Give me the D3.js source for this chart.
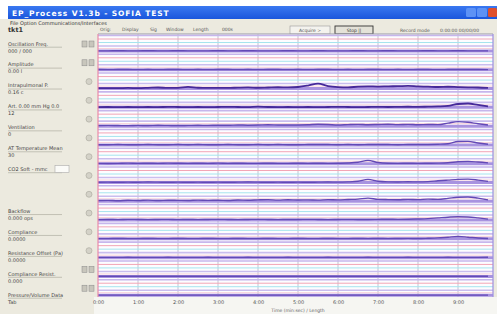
<!DOCTYPE html>
<html>
<head>
<meta charset="utf-8">
<script src="https://cdn.jsdelivr.net/npm/d3@7"></script>
<style>
body { margin:0; background:#fff; overflow:hidden; }
svg { display:block; font-family:"DejaVu Sans", sans-serif; }
</style>
</head>
<body>
<div id="vis"></div>
<script>
// ---- data ----
var labelNames = ["Oscillation Freq.", "Amplitude", "Intrapulmonal P.", "Art. 0.00 mm Hg 0.0", "Ventilation",
	"AT Temperature Mean", "CO2 Soft - mmc", "", "Backflow", "Compliance", "Resistance Offset (Pa)",
	"Compliance Resist.", "Pressure/Volume Data"];
var labelValues = ["000 / 000", "0.00 l", "0.16 c", "12", "0", "30", "", "", "0.000 ops", "0.0000", "0.0000", "0.000", "Tab"];

var timeTicks = [0, 1, 2, 3, 4, 5, 6, 7, 8, 9];
var tickLabels = ["0:00", "1:00", "2:00", "3:00", "4:00", "5:00", "6:00", "7:00", "8:00", "9:00"];

var sampleTimes = [0, 0.25, 0.5, 0.75, 1, 1.25, 1.5, 1.75, 2, 2.25, 2.5, 2.75, 3, 3.25, 3.5, 3.75, 4, 4.25, 4.5, 4.75,
	5, 5.25, 5.5, 5.75, 6, 6.25, 6.5, 6.75, 7, 7.25, 7.5, 7.75, 8, 8.25, 8.5, 8.75, 9, 9.25, 9.5, 9.75];

var ch0 = [0.1,0.1,0.2,0.1,0.1,0.2,0.1,0.1,0.2,0.1,0.1,0.1,0.2,0.1,0.1,0.2,0.1,0.1,0.1,0.2,0.1,0.1,0.2,0.1,0.1,0.1,0.2,0.1,0.1,0.2,0.1,0.1,0.1,0.2,0.1,0.1,0.2,0.1,0.1,0.1];
var ch1 = [0.2,0.1,0.2,0.2,0.1,0.2,0.1,0.2,0.2,0.1,0.2,0.1,0.2,0.2,0.1,0.2,0.1,0.2,0.2,0.1,0.2,0.1,0.2,0.2,0.1,0.2,0.1,0.2,0.2,0.1,0.2,0.1,0.2,0.2,0.1,0.2,0.3,0.2,0.2,0.1];
var ch2 = [0.3,0.4,0.3,0.5,0.4,0.6,0.9,0.5,0.6,1.4,0.7,0.5,0.6,0.5,0.8,1.0,0.7,0.9,1.1,1.0,1.3,2.5,4.2,2.0,1.2,1.0,1.6,1.8,1.7,1.9,2.0,2.2,1.8,1.6,1.3,1.5,1.2,1.0,0.9,0.6];
var ch3 = [0.2,0.3,0.2,0.3,0.2,0.3,0.2,0.4,0.3,0.2,0.3,0.2,0.3,0.4,0.3,0.2,0.6,0.3,0.2,0.3,0.2,0.3,0.2,0.3,0.4,0.3,0.2,0.3,0.4,0.3,0.4,0.5,0.4,0.6,0.8,1.2,2.8,3.2,2.0,0.8];
var ch4 = [0.5,0.6,0.5,0.4,0.6,0.5,0.7,0.6,0.5,0.6,0.7,0.6,0.8,0.7,1.0,0.8,0.9,1.2,1.0,0.9,1.0,1.2,1.6,1.4,1.0,1.3,1.5,1.2,1.4,1.6,1.3,1.5,1.2,1.4,1.3,2.5,3.8,3.2,2.0,1.0];
var ch5 = [0.2,0.2,0.3,0.2,0.2,0.3,0.2,0.2,0.3,0.2,0.3,0.2,0.2,0.3,0.2,0.2,0.3,0.2,0.3,0.2,0.2,0.3,0.4,0.3,0.2,0.3,0.2,0.3,0.4,0.3,0.2,0.3,0.3,0.4,0.6,1.0,2.8,3.0,1.6,0.6];
var ch6 = [0.3,0.2,0.3,0.5,0.3,0.4,0.3,0.5,0.4,0.3,0.4,0.3,0.5,0.3,0.4,0.3,0.3,0.4,0.3,0.3,0.4,0.3,0.4,0.3,0.4,0.6,1.2,2.8,1.0,0.4,0.3,0.4,0.3,0.4,0.5,0.8,1.6,1.9,1.4,0.7];
var ch7 = [0.2,0.3,0.2,0.3,0.2,0.4,0.3,0.2,0.3,0.2,0.3,0.2,0.3,0.2,0.3,0.4,0.3,0.2,0.3,0.2,0.3,0.2,0.3,0.4,0.3,0.5,1.0,2.6,1.0,0.5,0.4,0.6,0.5,0.7,1.4,2.0,2.6,2.8,2.0,0.9];
var ch8 = [0.6,0.8,0.5,0.9,0.7,1.0,0.6,0.9,0.8,0.7,1.0,0.8,0.9,0.7,1.1,0.9,1.2,1.4,1.0,1.3,1.1,1.2,1.0,1.4,1.2,1.5,1.8,2.6,1.6,1.4,1.3,1.6,1.4,1.8,1.6,2.4,3.4,3.6,2.6,1.2];
var ch9 = [0.4,0.5,0.4,0.6,0.5,0.4,0.5,0.6,0.4,0.5,0.4,0.5,0.6,0.5,0.4,0.5,0.6,0.5,0.4,0.5,0.5,0.6,0.5,0.4,0.5,0.6,0.5,0.5,0.6,0.7,0.6,0.7,0.9,1.2,1.8,2.4,2.8,2.6,1.8,0.8];
var ch10 = [0.2,0.2,0.3,0.2,0.2,0.3,0.2,0.2,0.3,0.2,0.2,0.3,0.2,0.2,0.3,0.2,0.2,0.3,0.2,0.2,0.3,0.2,0.2,0.3,0.2,0.2,0.3,0.2,0.3,0.2,0.3,0.4,0.3,0.5,0.8,1.4,2.0,1.4,0.7,0.3];
var ch11 = [0.2,0.2,0.2,0.3,0.2,0.2,0.2,0.3,0.2,0.2,0.2,0.3,0.2,0.2,0.2,0.3,0.2,0.2,0.2,0.3,0.2,0.2,0.2,0.3,0.2,0.2,0.2,0.3,0.2,0.2,0.2,0.3,0.2,0.2,0.2,0.3,0.2,0.2,0.2,0.3];
var ch12 = [0.1,0.1,0.1,0.1,0.1,0.1,0.1,0.1,0.1,0.1,0.1,0.1,0.1,0.1,0.1,0.1,0.1,0.1,0.1,0.1,0.1,0.1,0.1,0.1,0.1,0.1,0.1,0.1,0.1,0.1,0.1,0.1,0.1,0.1,0.1,0.1,0.1,0.1,0.1,0.1];
var ch13 = [0.1,0.1,0.1,0.1,0.1,0.1,0.1,0.1,0.1,0.1,0.1,0.1,0.1,0.1,0.1,0.1,0.1,0.1,0.1,0.1,0.1,0.1,0.1,0.1,0.1,0.1,0.1,0.1,0.1,0.1,0.1,0.1,0.1,0.1,0.1,0.1,0.1,0.1,0.1,0.1];

var traces = [ch0, ch1, ch2, ch3, ch4, ch5, ch6, ch7, ch8, ch9, ch10, ch11, ch12, ch13];

// ---- drawing ----
var width = 497, height = 314;
var plotLeft = 98, plotRight = 493, plotTop = 34, plotBottom = 297;

var svg = d3.select("#vis").append("svg")
	.attr("width", width)
	.attr("height", height);

var xScale = d3.scaleLinear()
	.domain([0, 9.875])
	.range([plotLeft, plotRight]);

var bandScale = d3.scaleBand()
	.domain(d3.range(traces.length))
	.range([plotTop, plotBottom]);

var labelScale = d3.scalePoint()
	.domain(d3.range(labelNames.length))
	.range([44, 295]);

var yScale = d3.scaleLinear()
	.domain([0, 5])
	.range([0, -6]);

// window chrome
svg.append("rect").attr("x", 0).attr("y", 19).attr("width", width).attr("height", height - 19).attr("fill", "#eceadf");

var titleGrad = svg.append("defs").append("linearGradient").attr("id", "tg").attr("x1", 0).attr("y1", 0).attr("x2", 0).attr("y2", 1);
titleGrad.append("stop").attr("offset", "0%").attr("stop-color", "#3a78f0");
titleGrad.append("stop").attr("offset", "100%").attr("stop-color", "#1a56dc");

svg.append("rect").attr("x", 8).attr("y", 6).attr("width", width - 8).attr("height", 13).attr("fill", "url(#tg)");
svg.append("text").attr("x", 12).attr("y", 15.5).attr("fill", "#fff").attr("font-size", 7.5).attr("font-weight", "bold")
	.attr("letter-spacing", 0.9)
	.text("EP_Process V1.3b - SOFIA TEST");
svg.append("rect").attr("x", 466).attr("y", 8).attr("width", 10).attr("height", 9).attr("rx", 1.5).attr("fill", "#5d92f5");
svg.append("rect").attr("x", 477).attr("y", 8).attr("width", 10).attr("height", 9).attr("rx", 1.5).attr("fill", "#5d92f5");
svg.append("rect").attr("x", 488).attr("y", 8).attr("width", 9).attr("height", 9).attr("rx", 1.5).attr("fill", "#e0502c");

// menu + toolbar
svg.append("text").attr("x", 10).attr("y", 24.5).attr("font-size", 5).attr("fill", "#333")
	.text("File    Option    Communications/Interfaces");
svg.append("text").attr("x", 8).attr("y", 32).attr("font-size", 6.5).attr("font-weight", "bold").attr("fill", "#333").text("tkt1");

var toolItems = [["Orig:", 100], ["Display", 122], ["Sig", 150], ["Window", 166], ["Length", 193], ["000s", 222]];
svg.selectAll(".tool").data(toolItems).enter().append("text")
	.attr("x", d => d[1]).attr("y", 31).attr("font-size", 4.5).attr("fill", "#555").text(d => d[0]);

svg.append("rect").attr("x", 290).attr("y", 26).attr("width", 40).attr("height", 8).attr("fill", "#f4f3ee").attr("stroke", "#999").attr("stroke-width", 0.6);
svg.append("text").attr("x", 310).attr("y", 31.8).attr("text-anchor", "middle").attr("font-size", 4.5).attr("fill", "#555").text("Acquire  >");
svg.append("rect").attr("x", 335).attr("y", 26).attr("width", 38).attr("height", 8).attr("fill", "#e4e2d8").attr("stroke", "#333").attr("stroke-width", 0.9);
svg.append("text").attr("x", 354).attr("y", 31.8).attr("text-anchor", "middle").attr("font-size", 4.5).attr("fill", "#333").text("Stop ||");
svg.append("text").attr("x", 400).attr("y", 31.5).attr("font-size", 4.5).attr("fill", "#555").text("Record mode");
svg.append("text").attr("x", 440).attr("y", 31.5).attr("font-size", 4.5).attr("fill", "#555").text("0:00:00 00/00/00");

// plot background
svg.append("rect").attr("x", plotLeft).attr("y", plotTop).attr("width", plotRight - plotLeft).attr("height", plotBottom - plotTop)
	.attr("fill", "#fdfdff");
svg.append("line").attr("x1", plotLeft).attr("x2", plotRight).attr("y1", plotTop).attr("y2", plotTop).attr("stroke", "#9a9aa8");

// vertical grid
svg.selectAll(".vgrid").data(timeTicks.slice(1)).enter().append("line")
	.attr("x1", d => xScale(d)).attr("x2", d => xScale(d))
	.attr("y1", plotTop).attr("y2", plotBottom)
	.attr("stroke", "#b4b4c4").attr("stroke-width", 0.8);

// horizontal guides in each channel band
var guides = [
	{ off: 1.5, color: "#c6b6ec", w: 1.6 },
	{ off: 5, color: "#f2a6b6", w: 1 },
	{ off: 8.5, color: "#a6e4ee", w: 1 },
	{ off: 12, color: "#cabdee", w: 1.6 },
	{ off: 14.5, color: "#f6c4cf", w: 0.8 }
];

var bands = svg.selectAll(".band").data(traces).enter().append("g")
	.attr("class", "band")
	.attr("transform", (d, i) => "translate(0," + bandScale(i) + ")");

guides.forEach(function (g) {
	bands.append("line")
		.attr("x1", plotLeft).attr("x2", plotRight)
		.attr("y1", g.off).attr("y2", g.off)
		.attr("stroke", g.color).attr("stroke-width", g.w);
});

var traceBase = 17;
bands.append("line")
	.attr("x1", plotLeft).attr("x2", plotRight)
	.attr("y1", traceBase).attr("y2", traceBase)
	.attr("stroke", "#a893e0").attr("stroke-width", 3);

var line = d3.line()
	.x((d, i) => xScale(sampleTimes[i]))
	.y(d => traceBase + yScale(d))
	.curve(d3.curveMonotoneX);

bands.append("path")
	.attr("d", d => line(d))
	.attr("fill", "none")
	.attr("stroke", (d, i) => (i == 2 || i == 3) ? "#45299a" : "#6249b6")
	.attr("stroke-width", (d, i) => (i == 2 || i == 3) ? 1.8 : 1.4);

// plot borders
svg.append("line").attr("x1", plotLeft).attr("x2", plotLeft).attr("y1", plotTop).attr("y2", plotBottom).attr("stroke", "#e98aa8").attr("stroke-width", 1.2);
svg.append("line").attr("x1", plotRight).attr("x2", plotRight).attr("y1", plotTop).attr("y2", plotBottom).attr("stroke", "#9d8fe0").attr("stroke-width", 1.2);

// bottom strip + time axis
svg.append("rect").attr("x", plotLeft - 4).attr("y", plotBottom).attr("width", width - plotLeft + 4).attr("height", height - plotBottom).attr("fill", "#f6f6f2");

var xAxis = d3.axisBottom(xScale)
	.tickValues(timeTicks)
	.tickFormat((d, i) => tickLabels[i])
	.tickSize(0)
	.tickPadding(3);

svg.append("g")
	.attr("transform", "translate(0," + plotBottom + ")")
	.call(xAxis)
	.call(g => g.select(".domain").remove())
	.call(g => g.selectAll("text").attr("font-size", 5).attr("fill", "#555").attr("font-family", "DejaVu Sans"));

svg.append("text").attr("x", xScale(5)).attr("y", 311.5).attr("text-anchor", "middle")
	.attr("font-size", 4.5).attr("fill", "#666").text("Time (min:sec) / Length");

// left panel labels
var labels = svg.selectAll(".lab").data(labelNames).enter().append("g")
	.attr("class", "lab")
	.attr("transform", (d, i) => "translate(0," + labelScale(i) + ")");

labels.filter(d => d != "").append("text")
	.attr("x", 8).attr("y", 1.5).attr("font-size", 5).attr("fill", "#444").text(d => d);
labels.filter(d => d != "").append("line")
	.attr("x1", 8).attr("x2", 62).attr("y1", 3.2).attr("y2", 3.2).attr("stroke", "#b8b6aa").attr("stroke-width", 0.8);
labels.append("text")
	.attr("x", 8).attr("y", 8.5).attr("font-size", 5).attr("fill", "#444").text((d, i) => labelValues[i]);

// CO2 entry box
svg.append("rect").attr("x", 55).attr("y", labelScale(6) - 4).attr("width", 14).attr("height", 7)
	.attr("fill", "#fbfbf8").attr("stroke", "#aaa").attr("stroke-width", 0.6);

// channel buttons
var doubleBtn = [0, 1, 12, 13];
bands.each(function (d, i) {
	var yb = bandScale(i) + 10;
	if (doubleBtn.indexOf(i) >= 0) {
		svg.append("rect").attr("x", 82).attr("y", yb - 3).attr("width", 5).attr("height", 6).attr("fill", "#c8c6bc").attr("stroke", "#888").attr("stroke-width", 0.5);
		svg.append("rect").attr("x", 89).attr("y", yb - 3).attr("width", 5).attr("height", 6).attr("fill", "#c8c6bc").attr("stroke", "#888").attr("stroke-width", 0.5);
	} else {
		svg.append("circle").attr("cx", 89).attr("cy", yb).attr("r", 3).attr("fill", "#d4d2c8").attr("stroke", "#a8a69c").attr("stroke-width", 0.6);
	}
});
</script>
</body>
</html>
